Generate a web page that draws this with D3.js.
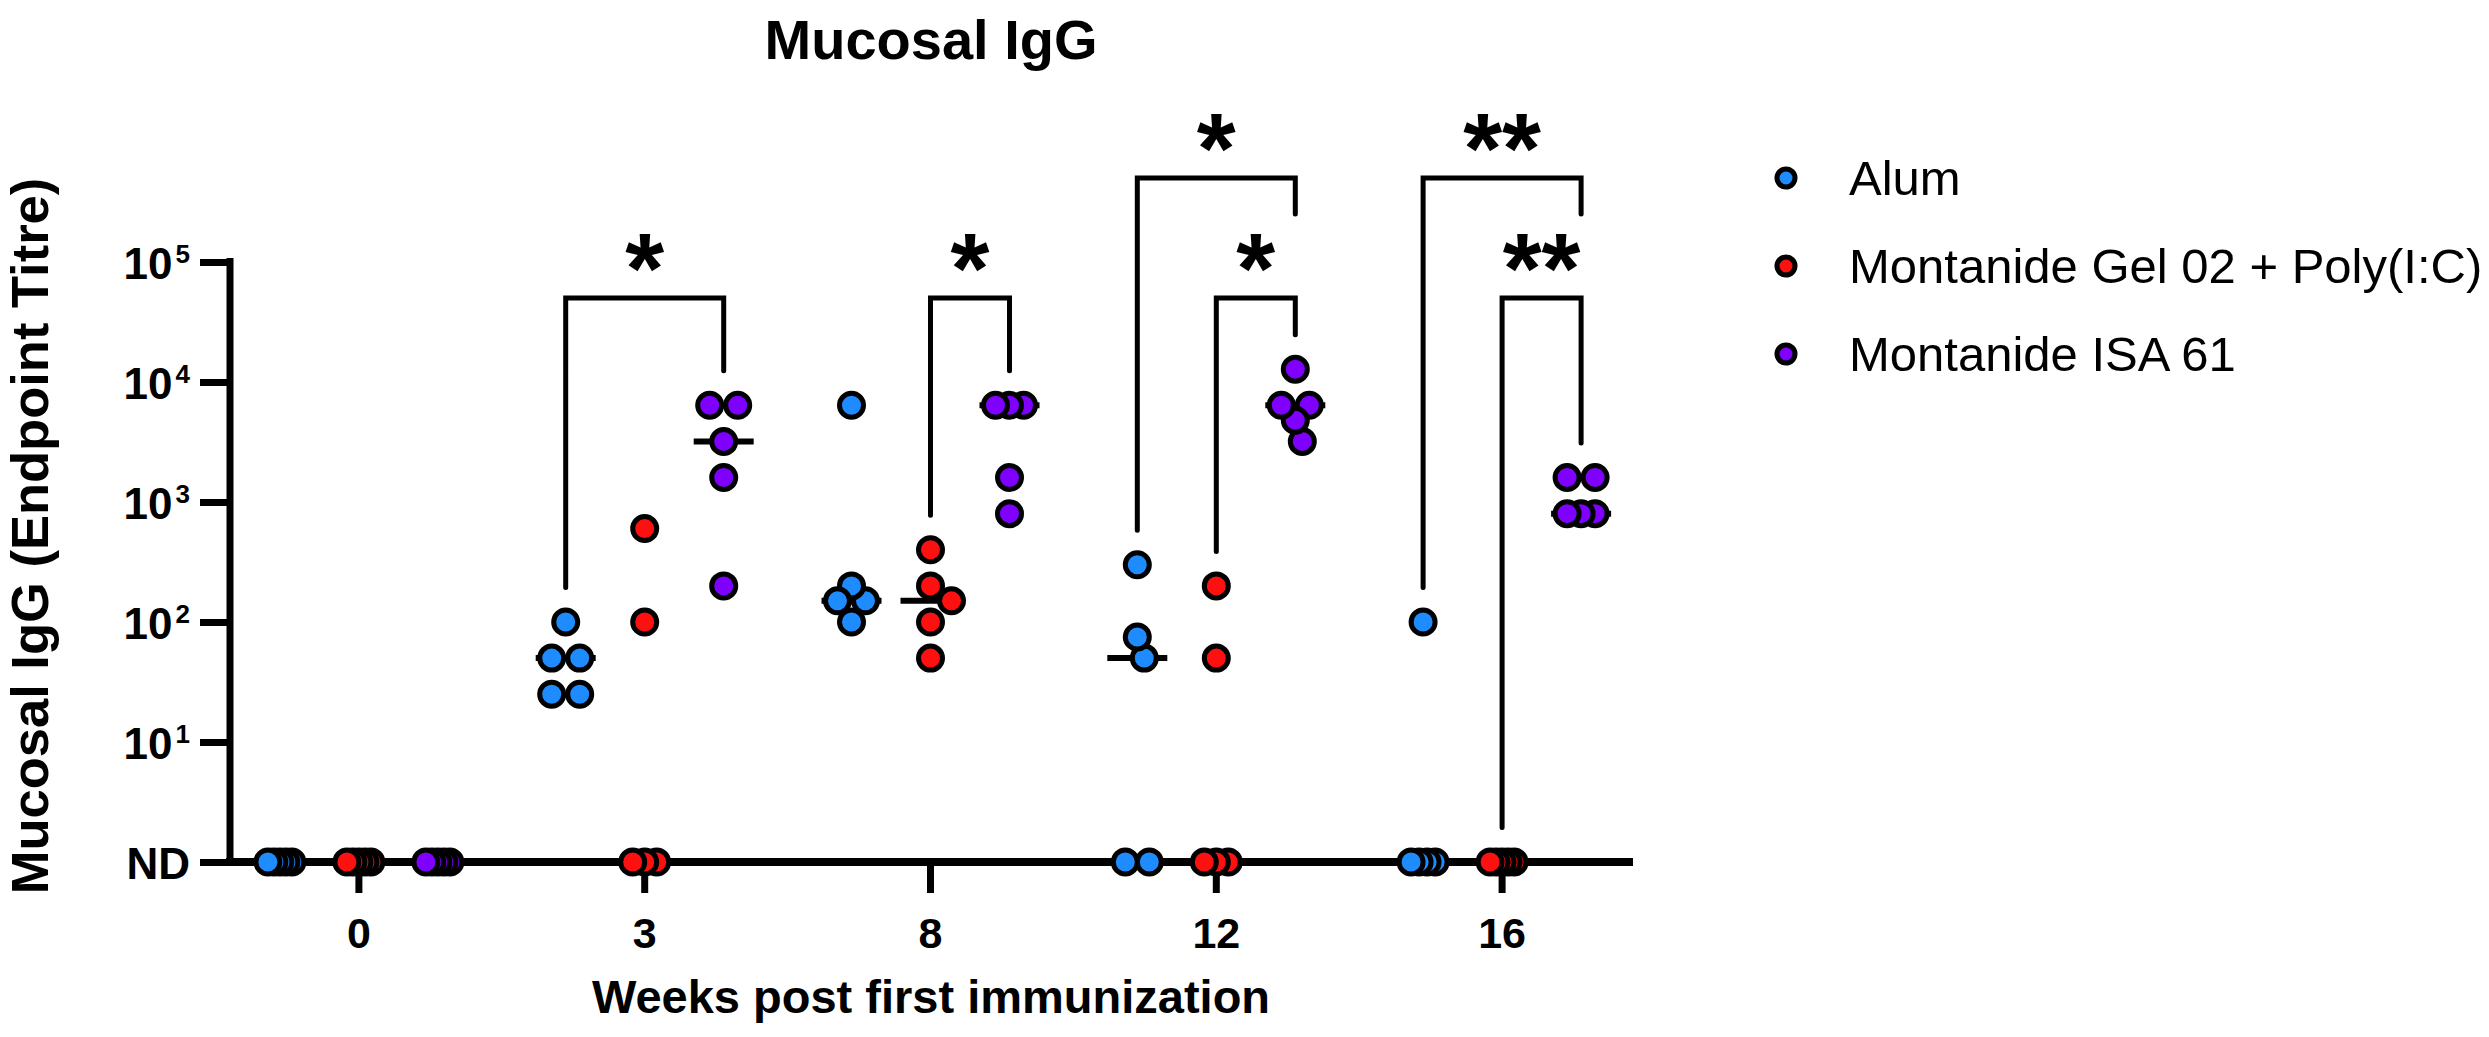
<!DOCTYPE html>
<html><head><meta charset="utf-8">
<script src="https://cdn.jsdelivr.net/npm/d3@7"></script>
<style>
body{margin:0;background:#fff}
text{font-family:"Liberation Sans",Arial,Helvetica,sans-serif;fill:#000}
</style>
</head><body>
<svg id="chart" width="2489" height="1037"></svg>
<script>
// ---------------- data ----------------
const ND = 0; // "not detected"
const weeks = ["0", "3", "8", "12", "16"];
const groups = ["Alum", "Montanide Gel 02 + Poly(I:C)", "Montanide ISA 61"];
const groupColors = ["#1E8CFF", "#FF1010", "#7F00FF"];
// endpoint titres per week (5 animals)
const alumValues = [[ND,ND,ND,ND,ND],[100,50,50,25,25],[6400,200,150,150,100],[300,75,50,ND,ND],[100,ND,ND,ND,ND]];
const gelValues  = [[ND,ND,ND,ND,ND],[600,100,ND,ND,ND],[400,200,150,100,50],[200,50,ND,ND,ND],[ND,ND,ND,ND,ND]];
const isaValues  = [[ND,ND,ND,ND,ND],[6400,6400,3200,1600,200],[6400,6400,6400,1600,800],[12800,6400,6400,4800,3200],[1600,1600,800,800,800]];
const yTickValues = [1, 10, 100, 1000, 10000, 100000];
const yTickLabels = ["ND", "10^1", "10^2", "10^3", "10^4", "10^5"];
// significance comparisons
const compWeeks  = ["3", "8", "12", "12", "16", "16"];
const compFrom   = [0, 1, 0, 1, 0, 1];
const compTo     = [2, 2, 2, 2, 2, 2];
const compLabels = ["*", "*", "*", "*", "**", "**"];

const titleText = "Mucosal IgG";
const xTitle = "Weeks post first immunization";
const yTitle = "Mucosal IgG (Endpoint Titre)";

// ---------------- chart ----------------
const svg = d3.select("#chart");
const allValues = [alumValues, gelValues, isaValues];

const y = d3.scaleLog().domain([1, 1e5]).range([862, 262]);
const x = d3.scaleBand().domain(weeks).range([216, 1645]);
const xg = d3.scalePoint().domain(d3.range(groups.length)).range([-79, 79]);
const yv = v => y(v === ND ? 1 : v);
const cx = (w, g) => x(w) + x.bandwidth() / 2 + xg(g);

const R = 12, SW = 5;

// axis lines
svg.append("line").attr("x1", 230).attr("x2", 230)
  .attr("y1", y(1e5) - 4).attr("y2", y(1) + 4)
  .attr("stroke", "#000").attr("stroke-width", 7);

// Y axis ticks + labels
const gy = svg.append("g").attr("transform", "translate(230,0)")
  .call(d3.axisLeft(y).tickValues(yTickValues).tickSizeInner(30).tickSizeOuter(0).tickPadding(10)
    .tickFormat((d, i) => yTickLabels[i]));
gy.attr("font-size", null).attr("font-family", null);
gy.select(".domain").remove();
gy.selectAll(".tick line").attr("stroke", "#000").attr("stroke-width", 7);
gy.selectAll(".tick text").each(function(d, i) {
  const t = d3.select(this);
  const [b, e] = yTickLabels[i].split("^");
  t.text(null).attr("font-size", 44).attr("font-weight", "bold").attr("dy", "0.38em").attr("fill", "#000");
  t.append("tspan").text(b);
  if (e) t.append("tspan").attr("font-size", 26).attr("dx", 3).attr("dy", -16).text(e);
});

// X axis ticks + labels
const gx = svg.append("g").attr("transform", "translate(0,862)")
  .call(d3.axisBottom(x).tickSizeInner(31).tickSizeOuter(0).tickPadding(24));
gx.attr("font-size", null).attr("font-family", null);
gx.select(".domain").remove();
gx.selectAll(".tick line").attr("stroke", "#000").attr("stroke-width", 7);
gx.selectAll(".tick text").attr("font-size", 43).attr("font-weight", "bold").attr("fill", "#000");

svg.append("line").attr("x1", 226).attr("x2", 1633)
  .attr("y1", y(1)).attr("y2", y(1))
  .attr("stroke", "#000").attr("stroke-width", 8);

// scatter layout (column scatter like Prism)
function swarm(values) {
  const pts = values.map(v => ({ v, y: yv(v), dx: 0 }));
  const rows = d3.groups(pts, d => d.v).sort((a, b) => b[0] - a[0]);
  const placed = [];
  const D = 22;
  for (const [v, row] of rows) {
    const n = row.length;
    let base;
    if (v === ND) {
      base = row.map((p, i) => n > 1 ? -12 + i * 24 / (n - 1) : 0);
      row.forEach((p, i) => { p.dx = base[i]; placed.push(p); });
      continue;
    }
    const sp = n === 2 ? 28 : 14;
    base = row.map((p, i) => (i - (n - 1) / 2) * sp);
    let best = 0, bestScore = -1;
    for (const s of [0, 7, -7, 14, -14, 21, -21]) {
      let m = Infinity;
      row.forEach((p, i) => placed.forEach(q => { m = Math.min(m, Math.hypot(base[i] + s - q.dx, p.y - q.y)); }));
      if (m >= D) { best = s; bestScore = Infinity; break; }
      if (m > bestScore) { bestScore = m; best = s; }
    }
    row.forEach((p, i) => { p.dx = base[i] + best; placed.push(p); });
  }
  return pts;
}

// medians
weeks.forEach((w, wi) => {
  allValues.forEach((vals, g) => {
    const med = d3.median(vals[wi]);
    const c = cx(w, g);
    svg.append("line").attr("x1", c - 30).attr("x2", c + 30)
      .attr("y1", yv(med)).attr("y2", yv(med))
      .attr("stroke", "#000").attr("stroke-width", 6);
  });
});

// significance brackets
const comps = compWeeks.map((w, i) => ({ w, a: compFrom[i], b: compTo[i], label: compLabels[i] }));
comps.forEach(c => {
  c.level = 1 + comps.filter(o => o !== c && o.w === c.w && o.a >= c.a && o.b <= c.b).length;
});
const bracketY = lvl => y(1e5) + 36 - (lvl - 1) * 120;
comps.forEach(c => {
  const wi = weeks.indexOf(c.w);
  const by = bracketY(c.level);
  const legEnd = g => {
    const inner = comps.find(o => o !== c && o.w === c.w && o.level < c.level && (o.a === g || o.b === g));
    if (inner) return bracketY(inner.level) - 84;
    return yv(d3.max(allValues[g][wi])) - 34.5;
  };
  const xa = cx(c.w, c.a), xb = cx(c.w, c.b);
  svg.append("path")
    .attr("d", `M${xa},${legEnd(c.a)}V${by}H${xb}V${legEnd(c.b)}`)
    .attr("fill", "none").attr("stroke", "#000").attr("stroke-width", 5)
    .attr("stroke-linejoin", "miter").attr("stroke-linecap", "round");
  svg.append("text").attr("x", (xa + xb) / 2).attr("y", by + 5)
    .attr("text-anchor", "middle").attr("font-size", 100).attr("font-weight", "bold")
    .text(c.label);
});

// dots
weeks.forEach((w, wi) => {
  allValues.forEach((vals, g) => {
    const pts = swarm(vals[wi]).slice().sort((a, b) => b.dx - a.dx);
    svg.append("g").selectAll("circle").data(pts).join("circle")
      .attr("cx", d => cx(w, g) + d.dx).attr("cy", d => d.y).attr("r", R)
      .attr("fill", groupColors[g]).attr("stroke", "#000").attr("stroke-width", SW);
  });
});

// titles
svg.append("text").attr("x", 931).attr("y", 59).attr("text-anchor", "middle")
  .attr("font-size", 56).attr("font-weight", "bold").text(titleText);
svg.append("text").attr("x", 931).attr("y", 1013).attr("text-anchor", "middle")
  .attr("font-size", 47).attr("font-weight", "bold").text(xTitle);
svg.append("text").attr("transform", "translate(48,536) rotate(-90)").attr("text-anchor", "middle")
  .attr("font-size", 52.5).attr("font-weight", "bold").text(yTitle);

// legend
const lg = svg.append("g").attr("transform", "translate(1786,178)");
groups.forEach((name, i) => {
  const row = lg.append("g").attr("transform", `translate(0,${i * 88})`);
  row.append("circle").attr("r", 9).attr("fill", groupColors[i]).attr("stroke", "#000").attr("stroke-width", 5);
  row.append("text").attr("x", 63).attr("y", 17).attr("font-size", 49).text(name);
});
</script>
</body></html>
